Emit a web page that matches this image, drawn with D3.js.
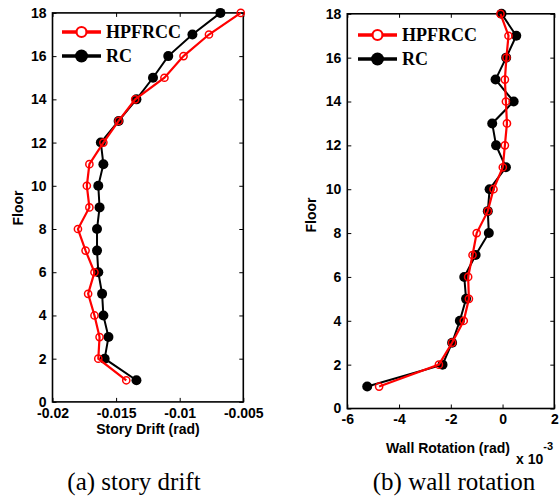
<!DOCTYPE html>
<html>
<head>
<meta charset="utf-8">
<script src="https://cdn.jsdelivr.net/npm/d3@7"></script>
<style>
  body { margin: 0; background: #fff; }
  svg { display: block; }
</style>
</head>
<body>
<div id="chart"></div>
<script>
// floors 1..18
const floors = d3.range(1, 19);

// story drift (rad)
const driftHPFRCC = [-0.0142, -0.0164, -0.0163, -0.0167, -0.0172, -0.0167, -0.0174, -0.0180, -0.0171,
  -0.0173, -0.0171, -0.0160, -0.0148, -0.0135, -0.0112, -0.0097, -0.0077, -0.0052];
const driftRC = [-0.0134, -0.0159, -0.0156, -0.0160, -0.0161, -0.0164, -0.0165, -0.0165, -0.0163,
  -0.0164, -0.0160, -0.0162, -0.0148, -0.0134, -0.0121, -0.0109, -0.0090, -0.0068];

// wall rotation (x 10^-3 rad)
const rotHPFRCC = [-4.77, -2.46, -1.95, -1.50, -1.30, -1.33, -1.16, -1.00, -0.57,
  -0.35, 0.01, 0.09, 0.17, 0.13, 0.09, 0.15, 0.23, -0.08];
const rotRC = [-5.23, -2.32, -1.95, -1.65, -1.41, -1.48, -1.04, -0.53, -0.57,
  -0.50, 0.13, -0.25, -0.40, 0.43, -0.27, 0.14, 0.53, -0.04];

const driftTicks = [-0.02, -0.015, -0.01, -0.005];
const rotTicks = [-6, -4, -2, 0, 2];
const floorTicks = d3.range(0, 19, 2);
const seriesNames = ['HPFRCC', 'RC'];

const W = 559, H = 498;
const svg = d3.select('#chart').append('svg').attr('width', W).attr('height', H);
const sans = 'Arial, "Liberation Sans", sans-serif';
const serif = '"Liberation Serif", "Times New Roman", serif';

function panel(cfg) {
  const x = d3.scaleLinear().domain(cfg.xDomain).range([cfg.left, cfg.right]);
  const y = d3.scaleLinear().domain([0, 18]).range([cfg.bottom, cfg.top]);
  const g = svg.append('g');

  //axes with inward ticks on all four sides
  const ax = (axis, tr, labels) => {
    const a = g.append('g').attr('transform', tr).call(axis);
    a.select('.domain').remove();
    a.selectAll('line').attr('stroke', '#000').attr('stroke-width', 1);
    if (!labels) a.selectAll('text').remove();
    a.selectAll('text')
      .style('font-family', sans).style('font-weight', 'bold')
      .style('font-size', '14px').style('fill', '#000');
    return a;
  };
  ax(d3.axisBottom(x).tickValues(cfg.xTicks).tickSize(-4).tickPadding(6).tickFormat(d => String(d)),
    `translate(0,${cfg.bottom})`, true);
  ax(d3.axisTop(x).tickValues(cfg.xTicks).tickSize(-4), `translate(0,${cfg.top})`, false);
  ax(d3.axisLeft(y).tickValues(floorTicks).tickSize(-4).tickPadding(6), `translate(${cfg.left},0)`, true);
  ax(d3.axisRight(y).tickValues(floorTicks).tickSize(-4), `translate(${cfg.right},0)`, false);

  //box
  g.append('rect')
    .attr('x', cfg.left).attr('y', cfg.top)
    .attr('width', cfg.right - cfg.left).attr('height', cfg.bottom - cfg.top)
    .attr('fill', 'none').attr('stroke', '#000').attr('stroke-width', 1.6);

  const line = d3.line().x(d => x(d[0])).y(d => y(d[1]));

  //RC (black, filled)
  const rc = cfg.rc.map((v, i) => [v, floors[i]]);
  g.append('path').attr('d', line(rc)).attr('fill', 'none').attr('stroke', '#000').attr('stroke-width', 2);
  g.selectAll('.rc').data(rc).enter().append('circle')
    .attr('cx', d => x(d[0])).attr('cy', d => y(d[1])).attr('r', 5).attr('fill', '#000');

  //HPFRCC (red, hollow)
  const hp = cfg.hp.map((v, i) => [v, floors[i]]);
  g.append('path').attr('d', line(hp)).attr('fill', 'none').attr('stroke', '#f00').attr('stroke-width', 2.2);
  g.selectAll('.hp').data(hp).enter().append('circle')
    .attr('cx', d => x(d[0])).attr('cy', d => y(d[1])).attr('r', 3.6)
    .attr('fill', 'none').attr('stroke', '#f00').attr('stroke-width', 1.5);

  //labels
  g.append('text')
    .attr('x', cfg.xlabX).attr('y', cfg.xlabY)
    .attr('text-anchor', 'middle')
    .style('font-family', sans).style('font-weight', 'bold').style('font-size', '14px')
    .text(cfg.xlabel);
  g.append('text')
    .attr('transform', `translate(${cfg.ylabX},${cfg.ylabY}) rotate(-90)`)
    .attr('text-anchor', 'middle')
    .style('font-family', sans).style('font-weight', 'bold').style('font-size', '14px')
    .text('Floor');
  g.append('text')
    .attr('x', cfg.capX).attr('y', 490)
    .attr('text-anchor', 'middle')
    .style('font-family', serif).style('font-size', '25px')
    .text(cfg.caption);

  //legend
  const lg = g.append('g').attr('transform', `translate(${cfg.legX},${cfg.legY})`);
  seriesNames.forEach((name, i) => {
    const yy = i * 24, red = i === 0;
    lg.append('line').attr('x1', 0).attr('x2', 39).attr('y1', yy).attr('y2', yy)
      .attr('stroke', red ? '#f00' : '#000').attr('stroke-width', 3.5);
    lg.append('circle').attr('cx', 19.5).attr('cy', yy).attr('r', red ? 5 : 6.5)
      .attr('fill', red ? '#fff' : '#000').attr('stroke', red ? '#f00' : 'none').attr('stroke-width', 2.2);
    lg.append('text').attr('x', 44).attr('y', yy + 6)
      .style('font-family', serif)
      .style('font-weight', 'bold').style('font-size', '18px')
      .text(name);
  });
  return g;
}

panel({
  xDomain: [-0.02, -0.005], xTicks: driftTicks,
  left: 52.5, right: 243.3, top: 12.9, bottom: 401.9,
  hp: driftHPFRCC, rc: driftRC,
  xlabel: 'Story Drift (rad)', xlabX: 148, xlabY: 434,
  ylabX: 23, ylabY: 208,
  caption: '(a) story drift', capX: 134,
  legX: 62, legY: 32
});

const right = panel({
  xDomain: [-6, 2], xTicks: rotTicks,
  left: 347.3, right: 554.3, top: 13.8, bottom: 408.5,
  hp: rotHPFRCC, rc: rotRC,
  xlabel: 'Wall Rotation (rad)', xlabX: 448, xlabY: 453,
  ylabX: 316, ylabY: 215,
  caption: '(b) wall rotation', capX: 454,
  legX: 358, legY: 35
});

//exponent for the rotation axis
const ex = right.append('text').attr('x', 516).attr('y', 464)
  .style('font-family', sans).style('font-weight', 'bold').style('font-size', '14px');
ex.append('tspan').text('x 10');
ex.append('tspan').attr('dy', -14).style('font-size', '11px').text('-3');
</script>
</body>
</html>
